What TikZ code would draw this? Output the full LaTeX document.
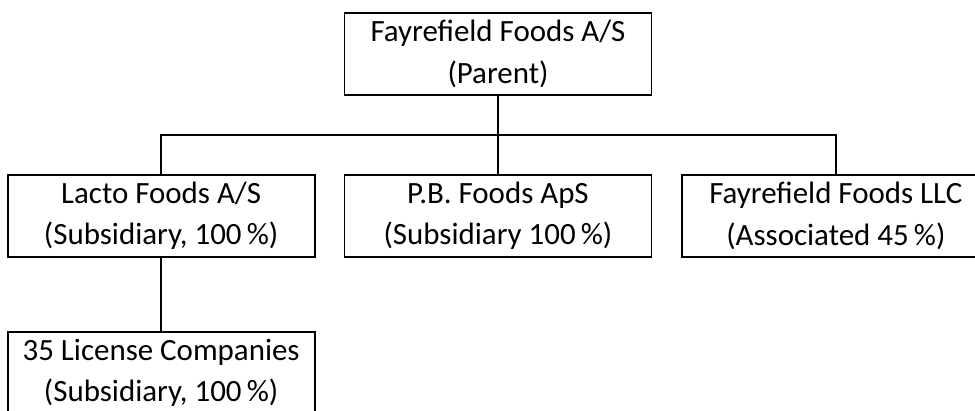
\documentclass[tikz,border=0pt]{standalone}
\usepackage{fontspec}
\setmainfont{Carlito}
\usetikzlibrary{positioning,calc}
\tikzset{
  orgbox/.style={draw,rectangle,line width=1.1pt,
               minimum width=6.14cm,minimum height=1.64cm,
               font=\fontsize{17.6}{23.5}\selectfont,align=center,inner sep=0pt},
  link/.style={line width=0.9pt},
}

\begin{document}
\begin{tikzpicture}[
  x=0.02cm, y=-0.02cm,
  node distance=1.56cm and 0.56cm
]
\useasboundingbox (0,0) rectangle (975,410);

\node[orgbox] (parent) at (498,54) {Fayrefield Foods A/S\\(Parent)};
\node[orgbox, below=of parent] (pb) {P.B. Foods ApS\\(Subsidiary 100\,\%)};
\node[orgbox, left=of pb] (lacto) {Lacto Foods A/S\\(Subsidiary, 100\,\%)};
\node[orgbox, right=0.58cm of pb] (llc) {Fayrefield Foods LLC\\(Associated 45\,\%)};
\node[orgbox, below=1.46cm of lacto] (lic) {35 License Companies\\(Subsidiary, 100\,\%)};

\coordinate (bar) at ($(parent.south)!0.5!(pb.north)$);

\draw[link] (parent)--(pb);
\draw[link] (lacto.north)|-(bar)-|(llc.north);
\draw[link] (lacto)--(lic);
\end{tikzpicture}
\end{document}
